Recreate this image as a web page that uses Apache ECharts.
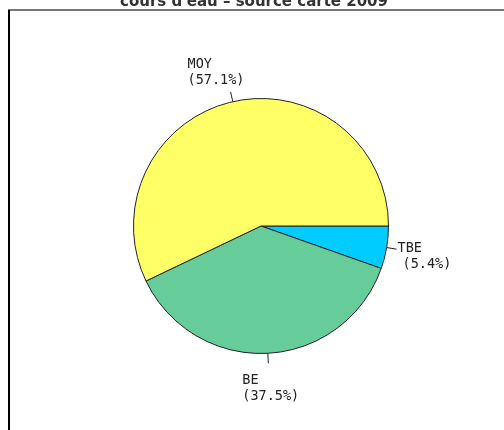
<!DOCTYPE html>
<html>
<head>
<meta charset="utf-8">
<script src="https://cdn.jsdelivr.net/npm/echarts@6/dist/echarts.min.js"></script>
<style>
    html, body { margin: 0; padding: 0; background: #fff; }
    #chart { width: 504px; height: 430px; }
</style>
</head>
<body>
<div id="chart"></div>
<script>
// données du camembert
var categories = ['TBE', 'BE', 'MOY'];
var percents = [5.4, 37.5, 57.1];
var colors = ['#00CCFF', '#66CC99', '#FFFF66'];
var titleText = "cours d'eau \u2013 source carte 2009";

var chart = echarts.init(document.getElementById('chart'));

var pieData = [];
for (var i = 0; i < categories.length; i++) {
    var item = {
        name: categories[i],
        value: percents[i],
        itemStyle: { color: colors[i] }
    };
    if (categories[i] == 'TBE') {
        item.label = { formatter: '{n|{b}}\n{p|({c}%)}' };
    }
    pieData.push(item);
}

// décalage du texte par rapport au bout du trait
var labelOffset = {
    'MOY': { dx: -43, dy: -3, v: 'bottom' },
    'BE':  { dx: -26, dy: 9, v: 'top' },
    'TBE': { dx: 1, dy: -9, v: 'top' }
};

var option = {
    animation: false,
    title: {
        text: titleText,
        left: 120,
        top: -5,
        padding: 0,
        textStyle: {
            fontFamily: 'DejaVu Sans',
            fontWeight: 'bold',
            fontSize: 15,
            color: '#333'
        }
    },
    graphic: [
        { type: 'line', shape: { x1: 8, y1: 10, x2: 504, y2: 10 }, style: { stroke: '#777', lineWidth: 2 } },
        { type: 'line', shape: { x1: 9, y1: 10, x2: 9, y2: 430 }, style: { stroke: '#000', lineWidth: 2 } }
    ],
    series: [
        {
            type: 'pie',
            center: [261, 226],
            radius: 127.5,
            startAngle: 0,
            clockwise: true,
            avoidLabelOverlap: false,
            data: pieData,
            itemStyle: {
                borderColor: '#222',
                borderWidth: 1
            },
            emphasis: { disabled: true },
            label: {
                show: true,
                position: 'outside',
                formatter: '{b}\n({c}%)',
                fontFamily: 'DejaVu Sans Mono',
                fontSize: 13.5,
                lineHeight: 16,
                color: '#222',
                rich: {
                    n: { fontFamily: 'DejaVu Sans Mono', fontSize: 13.5, lineHeight: 16, color: '#222' },
                    p: { fontFamily: 'DejaVu Sans Mono', fontSize: 13.5, lineHeight: 16, color: '#222', padding: [0, 0, 0, 5] }
                }
            },
            labelLine: {
                show: true,
                length: 10,
                length2: 0,
                lineStyle: { color: '#222', width: 1 }
            },
            labelLayout: function (params) {
                var name = categories[params.dataIndex];
                var off = labelOffset[name];
                var pts = params.labelLinePoints;
                var end = pts[1];
                return {
                    x: end[0] + off.dx,
                    y: end[1] + off.dy,
                    align: 'left',
                    verticalAlign: off.v,
                    labelLinePoints: pts
                };
            }
        }
    ]
};

chart.setOption(option, true);
</script>
</body>
</html>
